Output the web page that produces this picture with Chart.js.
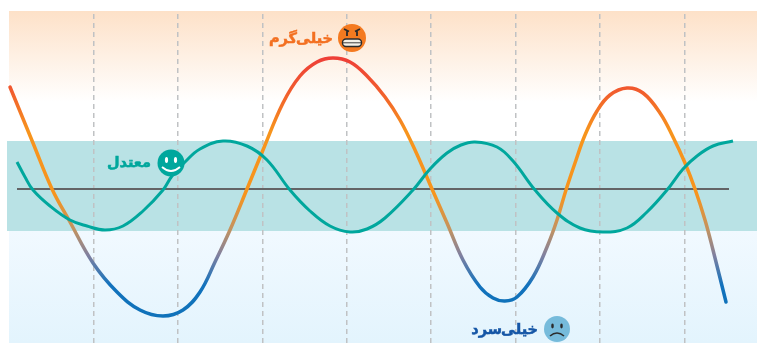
<!DOCTYPE html>
<html>
<head>
<meta charset="utf-8">
<script src="https://cdn.jsdelivr.net/npm/chart.js@4"></script>
<style>
  html, body { margin: 0; padding: 0; background: #fff; }
  canvas { display: block; }
</style>
</head>
<body>
<canvas id="climate_chart" width="757" height="343"></canvas>
<script>
// no real numbers on the original, values are read off the picture
const gridMarks = [84.7, 169, 253.3, 337.7, 422, 506.7, 591, 675.3];

const extremeX = [1, 24, 43, 61, 84, 108, 131, 154, 174, 191, 206, 221, 238, 254, 274, 291, 308, 324, 341, 358, 376, 391, 406, 423, 438, 454, 471, 484, 496, 508, 524, 538, 548, 557, 566, 576, 588, 601, 618, 634, 651, 664, 676, 686, 696, 704, 717];
const extremeY = [102, 46, 0, -33, -74, -103, -121, -127, -121, -103, -73, -41, 0, 39, 86, 113, 127, 131, 127, 113, 92, 69, 39, 0, -34, -71, -98, -109, -112, -108, -88, -58, -31, -1, 26, 54, 78, 94, 101, 96, 76, 52, 26, 0, -31, -61, -113];

const mildX = [8, 16, 24, 41, 61, 78, 96, 114, 134, 154, 163, 176, 191, 214, 238, 258, 281, 301, 321, 341, 358, 376, 404, 421, 438, 452, 466, 488, 504, 526, 548, 571, 594, 618, 638, 658, 674, 688, 704, 724];
const mildY = [27, 12, -1, -17, -31, -37, -41, -37, -22, -1, 13, 27, 40, 48, 43, 29, -1, -22, -37, -43, -40, -29, -1, 20, 36, 44, 47, 42, 28, -1, -24, -39, -43, -39, -23, -1, 20, 33, 43, 48];

const baseX = [8, 720];
const baseY = [0, 0];

const labelTexts = ["خیلی گرم", "معتدل", "خیلی سرد"];

const toPoints = (xs, ys) => xs.map((x, i) => ({ x: x, y: ys[i] }));

// red on top, orange in the middle, blue at the bottom
const extremeStroke = (context) => {
  const { chart } = context;
  if (!chart.chartArea) return "#F7941D";
  const yScale = chart.scales.y;
  const grad = chart.ctx.createLinearGradient(0, yScale.getPixelForValue(131), 0, yScale.getPixelForValue(-113));
  grad.addColorStop(0, "#EE3F37");
  grad.addColorStop(0.13, "#F15A2E");
  grad.addColorStop(0.30, "#F7941D");
  grad.addColorStop(0.56, "#F7941D");
  grad.addColorStop(0.70, "#C4935F");
  grad.addColorStop(0.81, "#7F80A0");
  grad.addColorStop(0.93, "#1272BD");
  grad.addColorStop(1, "#1072BA");
  return grad;
};

const bandsPlugin = {
  id: "bands",
  beforeDraw(chart) {
    const { ctx, scales: { x, y } } = chart;
    const right = chart.width;
    const hotTop = y.getPixelForValue(178);
    const hotEnd = y.getPixelForValue(87);
    const mildTop = y.getPixelForValue(48);
    const mildEnd = y.getPixelForValue(-42);
    const bottom = chart.height;
    const left = x.getPixelForValue(0);

    ctx.save();
    let grad = ctx.createLinearGradient(0, hotTop, 0, hotEnd);
    grad.addColorStop(0, "#FDE1C8");
    grad.addColorStop(1, "#FFFFFF");
    ctx.fillStyle = grad;
    ctx.fillRect(left, hotTop, right - left, hotEnd - hotTop);

    grad = ctx.createLinearGradient(0, mildEnd, 0, bottom);
    grad.addColorStop(0, "#F1F9FF");
    grad.addColorStop(1, "#E3F4FD");
    ctx.fillStyle = grad;
    ctx.fillRect(left, mildEnd, right - left, bottom - mildEnd);

    ctx.fillStyle = "#B9E2E5";
    ctx.fillRect(left - 2, mildTop, right - left + 2, mildEnd - mildTop);
    ctx.restore();
  },
};

const drawHotFace = (ctx, cx, cy) => {
  ctx.fillStyle = "#F47A20";
  ctx.beginPath(); ctx.arc(cx, cy, 14, 0, Math.PI * 2); ctx.fill();
  ctx.strokeStyle = "#2B2B2B";
  ctx.lineWidth = 1.8;
  ctx.beginPath();
  ctx.moveTo(cx - 8, cy - 9); ctx.lineTo(cx - 3, cy - 6.5);
  ctx.moveTo(cx + 8, cy - 9); ctx.lineTo(cx + 3, cy - 6.5);
  ctx.moveTo(cx - 5, cy - 7); ctx.lineTo(cx - 5, cy - 2);
  ctx.moveTo(cx + 5, cy - 7); ctx.lineTo(cx + 5, cy - 2);
  ctx.stroke();
  ctx.fillStyle = "#F4F1E8";
  ctx.lineWidth = 1.4;
  ctx.beginPath();
  ctx.roundRect(cx - 9.5, cy + 1, 19, 7.5, 3.5);
  ctx.fill(); ctx.stroke();
  ctx.lineWidth = 0.9;
  ctx.beginPath(); ctx.moveTo(cx - 9, cy + 4.8); ctx.lineTo(cx + 9, cy + 4.8); ctx.stroke();
};

const drawMildFace = (ctx, cx, cy) => {
  ctx.fillStyle = "#00A79D";
  ctx.beginPath(); ctx.arc(cx, cy, 13.5, 0, Math.PI * 2); ctx.fill();
  ctx.fillStyle = "#FFFFFF";
  ctx.beginPath(); ctx.ellipse(cx - 4.5, cy - 3, 1.6, 3, 0, 0, Math.PI * 2); ctx.fill();
  ctx.beginPath(); ctx.ellipse(cx + 4.5, cy - 3, 1.6, 3, 0, 0, Math.PI * 2); ctx.fill();
  ctx.strokeStyle = "#FFFFFF";
  ctx.lineWidth = 1.8;
  ctx.beginPath();
  ctx.moveTo(cx - 9, cy + 4);
  ctx.quadraticCurveTo(cx, cy + 12, cx + 9, cy + 4);
  ctx.stroke();
};

const drawColdFace = (ctx, cx, cy) => {
  ctx.fillStyle = "#76BBDB";
  ctx.beginPath(); ctx.arc(cx, cy, 13, 0, Math.PI * 2); ctx.fill();
  ctx.fillStyle = "#2B2B2B";
  ctx.beginPath(); ctx.ellipse(cx - 4.5, cy - 3, 1.3, 2.4, 0, 0, Math.PI * 2); ctx.fill();
  ctx.beginPath(); ctx.ellipse(cx + 4.5, cy - 3, 1.3, 2.4, 0, 0, Math.PI * 2); ctx.fill();
  ctx.strokeStyle = "#2B2B2B";
  ctx.lineWidth = 1.6;
  ctx.beginPath();
  ctx.moveTo(cx - 7, cy + 7);
  ctx.quadraticCurveTo(cx, cy + 1, cx + 7, cy + 7);
  ctx.stroke();
};

const captionsPlugin = {
  id: "captions",
  afterDatasetsDraw(chart) {
    const { ctx, scales: { x, y } } = chart;
    const items = [
      { text: labelTexts[0], color: "#F37021", x: 324, faceY: 151, y: 150, faceX: 343, draw: drawHotFace },
      { text: labelTexts[1], color: "#00A79D", x: 142, faceY: 26, y: 26, faceX: 162, draw: drawMildFace },
      { text: labelTexts[2], color: "#1556A6", x: 529, faceY: -140, y: -141, faceX: 548, draw: drawColdFace },
    ];
    ctx.save();
    items.forEach((item) => {
      item.draw(ctx, x.getPixelForValue(item.faceX), y.getPixelForValue(item.faceY));
      ctx.font = "bold 14.5px 'DejaVu Sans'";
      ctx.wordSpacing = "-6px";
      ctx.direction = "rtl";
      ctx.textAlign = "start";
      ctx.textBaseline = "middle";
      ctx.fillStyle = item.color;
      ctx.strokeStyle = item.color;
      ctx.lineWidth = 0.5;
      const px = x.getPixelForValue(item.x);
      const py = y.getPixelForValue(item.y);
      ctx.fillText(item.text, px, py);
      ctx.strokeText(item.text, px, py);
    });
    ctx.restore();
  },
};

new Chart(document.getElementById("climate_chart").getContext("2d"), {
  type: "line",
  data: {
    datasets: [
      {
        label: "mild",
        data: toPoints(mildX, mildY),
        borderColor: "#00A79D",
        borderWidth: 3,
        tension: 0.4,
        order: 2,
      },
      {
        label: "extreme",
        data: toPoints(extremeX, extremeY),
        borderColor: extremeStroke,
        borderWidth: 3.5,
        borderCapStyle: "round",
        tension: 0.4,
        order: 3,
      },
      {
        label: "base",
        data: toPoints(baseX, baseY),
        borderColor: "#636466",
        borderWidth: 2.2,
        order: 4,
      },
    ],
  },
  options: {
    responsive: false,
    animation: false,
    layout: { autoPadding: false, padding: { top: 14, left: 0, right: 0, bottom: 0 } },
    elements: { point: { radius: 0 } },
    plugins: { legend: { display: false }, tooltip: { enabled: false } },
    scales: {
      x: {
        type: "linear",
        min: -9,
        max: 748,
        afterBuildTicks: (scale) => { scale.ticks = gridMarks.map((v) => ({ value: v })); },
        ticks: { display: false },
        border: { display: false, dash: [5, 4] },
        grid: { color: "#C0C2C4", lineWidth: 1.5, drawTicks: false },
      },
      y: {
        display: false,
        min: -154,
        max: 175,
      },
    },
  },
  plugins: [bandsPlugin, captionsPlugin],
});
</script>
</body>
</html>
